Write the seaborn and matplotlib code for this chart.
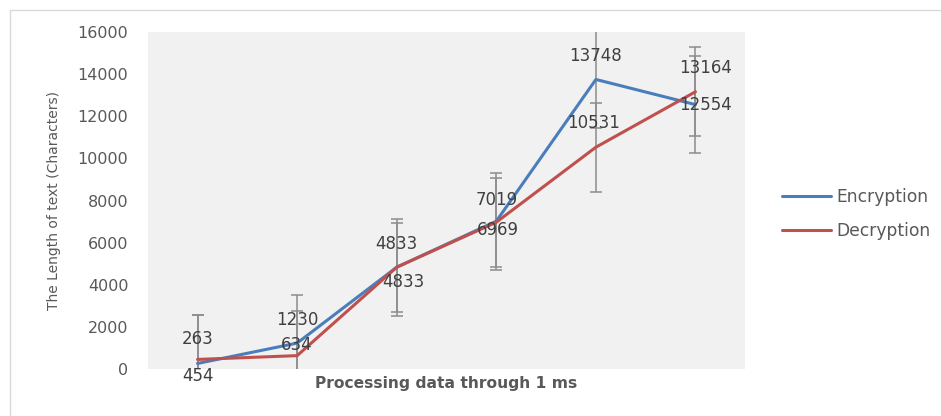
import numpy as np
import pandas as pd
import matplotlib
matplotlib.use('Agg')
import matplotlib.pyplot as plt
import seaborn as sns

# data
steps = [1, 2, 3, 4, 5, 6]
encryption = [263, 1230, 4833, 7019, 13748, 12554]
decryption = [454, 634, 4833, 6969, 10531, 13164]
series_names = ['Encryption', 'Decryption']
yticks = [0, 2000, 4000, 6000, 8000, 10000, 12000, 14000, 16000]

df = pd.DataFrame({
    'step': list(range(len(steps))) * 2,
    'value': encryption + decryption,
    'series': [series_names[0]] * len(steps) + [series_names[1]] * len(steps),
})

sns.set_style('white')
plt.rcParams['font.family'] = ['DejaVu Sans']

colors = {'Encryption': '#4a7ebb', 'Decryption': '#c0504d'}

fig = plt.figure(figsize=(9.41, 4.16), dpi=100)
ax = fig.add_axes([0.157, 0.113, 0.635, 0.81])
ax.set_facecolor('#f1f1f1')

# excel style standard error bars (std / sqrt(n))
for name, vals in zip(series_names, [encryption, decryption]):
    v = np.array(vals, dtype=float)
    se = v.std(ddof=1) / np.sqrt(len(v))
    ax.errorbar(range(len(v)), v, yerr=se, fmt='none', ecolor='#8c8c8c',
                elinewidth=1.1, capsize=4, capthick=1.1, zorder=1)

sns.lineplot(data=df, x='step', y='value', hue='series', palette=colors,
             linewidth=2.2, ax=ax, legend=True, zorder=3)

# data labels (offsets in pixels, as placed in the original)
enc_off = [(0, -24), (0, -23), (0, -23), (0, -21), (0, -23), (10, 0)]
dec_off = [(0, 17), (0, -11), (7, 15), (2, 8), (-2, -24), (10, -24)]
for vals, offs in [(encryption, enc_off), (decryption, dec_off)]:
    for i, (v, o) in enumerate(zip(vals, offs)):
        ax.annotate(str(v), (i, v), xytext=(o[0], -o[1]), textcoords='offset pixels',
                    ha='center', va='center', fontsize=12, color='#404040', zorder=4)

ax.set_xlim(-0.5, len(steps) - 0.5)
ax.set_ylim(0, 16000)
ax.set_yticks(yticks)
ax.set_yticklabels([str(t) for t in yticks], color='#595959', fontsize=11.5)
ax.set_xticks([])
ax.tick_params(axis='y', length=0, pad=14)
for s in ax.spines.values():
    s.set_visible(False)

ax.set_xlabel('Processing data through 1 ms', fontsize=11.2, fontweight='bold',
              color='#595959', labelpad=5)
ax.set_ylabel('The Length of text (Characters)', fontsize=10, color='#595959',
              labelpad=12)

leg = ax.legend(loc='center left', bbox_to_anchor=(1.035, 0.46), frameon=False,
                fontsize=12.3, handlelength=2.9, handletextpad=0.3, labelspacing=0.95,
                labelcolor='#595959')

# chart area border
fig.patches.append(plt.Rectangle((10 / 941, -0.01), 1.0, 1 - 10 / 416 + 0.01,
                                 transform=fig.transFigure, fill=False,
                                 edgecolor='#d9d9d9', linewidth=1))

fig.savefig('out.png', dpi=100)
